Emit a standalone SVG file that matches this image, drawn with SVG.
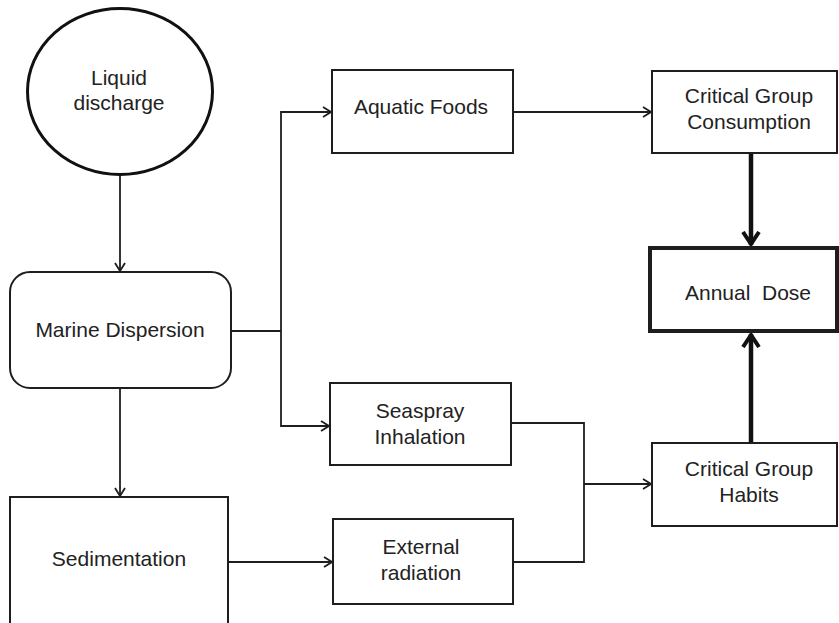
<svg xmlns="http://www.w3.org/2000/svg" width="839" height="623" viewBox="0 0 839 623">
  <style>
    .box { fill: #fff; stroke: #1e1e1e; stroke-width: 2; }
    .bold { stroke-width: 4; }
    .wire { fill: none; stroke: #1e1e1e; stroke-width: 1.8; }
    .heavy { fill: none; stroke: #111; stroke-width: 4.5; }
    text { font-family: "Liberation Sans", Arial, sans-serif; font-size: 21px; fill: #222; text-anchor: middle; }
  </style>
  <defs>
    <marker id="arrow" viewBox="0 0 10 12" markerWidth="10" markerHeight="12" refX="9" refY="6" orient="auto" markerUnits="userSpaceOnUse">
      <path d="M1,1 L9,6 L1,11" fill="none" stroke="#1e1e1e" stroke-width="1.8"/>
    </marker>
    <marker id="arrow-heavy" viewBox="0 0 16 20" markerWidth="16" markerHeight="20" refX="14" refY="10" orient="auto" markerUnits="userSpaceOnUse">
      <path d="M1,2 L13,10 L1,18" fill="none" stroke="#111" stroke-width="4"/>
    </marker>
  </defs>

  <g id="connectors">
    <path class="wire" d="M120,174 V271" marker-end="url(#arrow)"/>
    <path class="wire" d="M120,388 V496" marker-end="url(#arrow)"/>
    <path class="wire" d="M231,331 H281"/>
    <path class="wire" d="M281,331 V112 H331" marker-end="url(#arrow)"/>
    <path class="wire" d="M281,331 V426 H329" marker-end="url(#arrow)"/>
    <path class="wire" d="M228,562 H332" marker-end="url(#arrow)"/>
    <path class="wire" d="M513,112 H651" marker-end="url(#arrow)"/>
    <path class="wire" d="M511,423 H584 V562 H513"/>
    <path class="wire" d="M584,484 H651" marker-end="url(#arrow)"/>
    <path class="heavy" d="M751,153 V245" marker-end="url(#arrow-heavy)"/>
    <path class="heavy" d="M751,443 V334" marker-end="url(#arrow-heavy)"/>
  </g>

  <g id="liquid-discharge">
    <ellipse cx="120" cy="91.5" rx="92.5" ry="83" fill="#fff" stroke="#111" stroke-width="3"/>
    <text x="119" y="85">Liquid</text>
    <text x="119" y="110">discharge</text>
  </g>

  <g id="marine-dispersion">
    <rect class="box" x="10" y="272" width="221" height="116" rx="20" ry="20"/>
    <text x="120" y="337">Marine Dispersion</text>
  </g>

  <g id="sedimentation">
    <rect class="box" x="10" y="497" width="218" height="140"/>
    <text x="119" y="566">Sedimentation</text>
  </g>

  <g id="aquatic-foods">
    <rect class="box" x="332" y="70" width="181" height="83"/>
    <text x="421" y="114">Aquatic Foods</text>
  </g>

  <g id="seaspray-inhalation">
    <rect class="box" x="330" y="383" width="181" height="82"/>
    <text x="420" y="418">Seaspray</text>
    <text x="420" y="444">Inhalation</text>
  </g>

  <g id="external-radiation">
    <rect class="box" x="333" y="519" width="180" height="85"/>
    <text x="421" y="554">External</text>
    <text x="421" y="580">radiation</text>
  </g>

  <g id="critical-group-consumption">
    <rect class="box" x="652" y="71" width="185" height="82"/>
    <text x="749" y="103">Critical Group</text>
    <text x="749" y="129">Consumption</text>
  </g>

  <g id="annual-dose">
    <rect class="box bold" x="650" y="248" width="187" height="83"/>
    <text x="748" y="300" xml:space="preserve">Annual  Dose</text>
  </g>

  <g id="critical-group-habits">
    <rect class="box" x="652" y="443" width="185" height="83"/>
    <text x="749" y="476">Critical Group</text>
    <text x="749" y="502">Habits</text>
  </g>
</svg>
